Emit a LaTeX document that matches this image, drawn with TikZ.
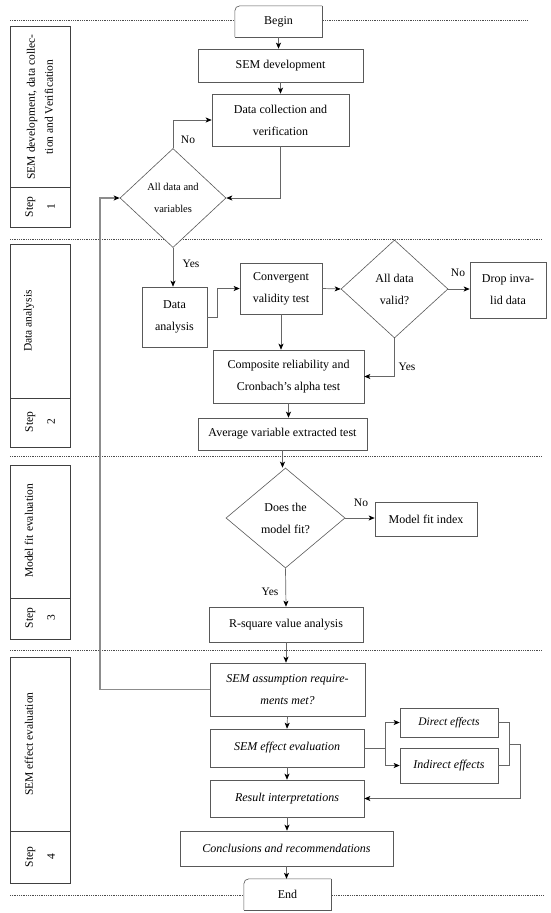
\documentclass[tikz,border=0pt]{standalone}
\usepackage{fontspec}
\setmainfont{Liberation Serif}
\usetikzlibrary{arrows.meta,shapes.geometric}

\begin{document}
\begin{tikzpicture}[x=1pt, y=-1pt,
    >={Stealth[length=6pt,width=5pt,inset=1.5pt,color=black]},
    box/.style={draw=black!65, line width=0.6pt, fill=white, inner sep=0pt, align=center, font=\fontsize{12}{22}\selectfont},
    decision/.style={diamond, draw=black!65, line width=0.6pt, fill=white, inner sep=0pt, align=center, font=\fontsize{12}{22}\selectfont},
    terminal/.style={fill=white, minimum width=87pt, minimum height=31pt, inner sep=0pt, font=\fontsize{12}{14}\selectfont},
    outline/.style={draw=black!65, line width=0.6pt},
    flow/.style={->, draw=black!60, line width=0.7pt},
    lane/.style={draw=black!75, line width=0.7pt},
    lanetext/.style={rotate=90, align=center, font=\fontsize{11.5}{18}\selectfont},
    steptext/.style={rotate=90, align=center, font=\fontsize{11.5}{22}\selectfont},
    separator/.style={line width=0.9pt, dash pattern=on 0.9pt off 0.9pt, black!70},
    answer/.style={font=\fontsize{11.5}{14}\selectfont}]
				\useasboundingbox (0,0) rectangle (550,913);
				
				% Dotted separators between the steps
				\draw[separator] (10,20) -- (527,20);
				\draw[separator] (10,239) -- (542,239);
				\draw[separator] (10,456) -- (542,456);
				\draw[separator] (10,650) -- (542,650);
				\draw[separator] (10,895) -- (543,895);
				
				% Step lanes on the left
				\draw[lane] (10,26) rectangle (70,227);
				\draw[lane] (10,187) -- (70,187);
				\node[lanetext] (lane1) at (40,107) {SEM development, data collec-\\tion and Verification};
				\node[steptext] (step1) at (40,207) {Step\\1};
				
				\draw[lane] (10,244) rectangle (70,447);
				\draw[lane] (10,398) -- (70,398);
				\node[lanetext] (lane2) at (29,321) {Data analysis};
				\node[steptext] (step2) at (40,422) {Step\\2};
				
				\draw[lane] (10,465) rectangle (70,639);
				\draw[lane] (10,598) -- (70,598);
				\node[lanetext] (lane3) at (29,531) {Model fit evaluation};
				\node[steptext] (step3) at (40,618) {Step\\3};
				
				\draw[lane] (10,657) rectangle (70,883);
				\draw[lane] (10,831) -- (70,831);
				\node[lanetext] (lane4) at (29,744) {SEM effect evaluation};
				\node[steptext] (step4) at (40,857) {Step\\4};
				
				% Step 1
				\node[terminal] (begin) at (278.5,21.5) {Begin};
				\draw[outline, rounded corners=5pt] (begin.south west) -- (begin.north west) -- (begin.north east);
				\draw[outline] (begin.north east) -- (begin.south east) -- (begin.south west);
				\node[box, minimum width=165pt, minimum height=33pt] (semdev) at (280.5,65.5) {SEM development};
				\node[box, minimum width=137pt, minimum height=52pt] (dcoll) at (280.5,120) {Data collection and\\verification};
				\node[decision, minimum width=106pt, minimum height=99pt, font=\fontsize{10.5}{22}\selectfont] (dia1) at (173,198) {All data and\\variables};
				
				% Step 2
				\node[box, minimum width=65pt, minimum height=60pt] (da) at (174.5,317) {Data\\analysis};
				\node[box, minimum width=82pt, minimum height=51pt] (conv) at (281,288.5) {Convergent\\validity test};
				\node[decision, minimum width=107pt, minimum height=98pt] (dia2) at (394.5,289) {All data\\valid?};
				\node[box, minimum width=76pt, minimum height=56pt] (drop) at (508,290) {Drop inva-\\lid data};
				\node[box, minimum width=151pt, minimum height=53pt] (comp) at (288.5,376.5) {Composite reliability and\\Cronbach’s alpha test};
				\node[box, minimum width=169pt, minimum height=32pt] (avg) at (282.5,434) {Average variable extracted test};
				
				% Step 3
				\node[decision, minimum width=119pt, minimum height=100pt] (dia3) at (285.5,518) {Does the\\model fit?};
				\node[box, minimum width=102pt, minimum height=34pt] (mfi) at (426,519) {Model fit index};
				\node[box, minimum width=154pt, minimum height=35pt] (rsq) at (286,624.5) {R-square value analysis};
				
				% Step 4
				\node[box, minimum width=155pt, minimum height=53pt, font=\itshape\fontsize{12}{22}\selectfont] (assm) at (287.5,689.5) {SEM assumption require-\\ments met?};
				\node[box, minimum width=154pt, minimum height=38pt, font=\itshape\fontsize{12}{22}\selectfont] (eff) at (287,748) {SEM effect evaluation};
				\node[box, minimum width=98pt, minimum height=29pt, font=\itshape\fontsize{11.5}{22}\selectfont] (direct) at (449,722.5) {Direct effects};
				\node[box, minimum width=98pt, minimum height=35pt, font=\itshape\fontsize{12}{22}\selectfont] (indirect) at (449,765.5) {Indirect effects};
				\node[box, minimum width=154pt, minimum height=37pt, font=\itshape\fontsize{12}{22}\selectfont] (res) at (287,798.5) {Result interpretations};
				\node[box, minimum width=213pt, minimum height=35pt, font=\itshape\fontsize{12}{22}\selectfont] (concl) at (286.5,848.5) {Conclusions and recommendations};
				\node[terminal] (end) at (287.5,894.5) {End};
				\draw[outline, rounded corners=5pt] (end.south west) -- (end.north west) -- (end.north east);
				\draw[outline] (end.north east) -- (end.south east) -- (end.south west);
				
				% Answers
				\node[answer] (no1) at (188,140) {No};
				\node[answer] (yes1) at (191,264) {Yes};
				\node[answer] (no2) at (458,273) {No};
				\node[answer] (yes2) at (407,367) {Yes};
				\node[answer] (no3) at (361,503) {No};
				\node[answer] (yes3) at (270,592) {Yes};
				
				% Connectors
				\draw[flow] (begin.south) -- (begin.south |- semdev.north);
				\draw[flow] (semdev.south) -- (dcoll.north);
				\draw[flow] (dia1.north) |- (dcoll.west);
				\draw[flow] (dcoll.south) |- (dia1.east);
				\draw[flow] (dia1.south) -- (dia1.south |- da.north);
				\draw[flow] (da.east) -- ++(10,0) |- (conv.west);
				\draw[flow] (conv.east) -- (dia2.west);
				\draw[flow] (dia2.east) -- (dia2.east -| drop.west);
				\draw[flow] (conv.south) -- (conv.south |- comp.north);
				\draw[flow] (dia2.south) |- (comp.east);
				\draw[flow] (comp.south) -- (comp.south |- avg.north);
				\draw[flow] (avg.south) -- (avg.south |- dia3.north);
				\draw[flow] (dia3.east) -- (dia3.east -| mfi.west);
				\draw[flow] (dia3.south) -- (rsq.north);
				\draw[flow] (rsq.south) -- (rsq.south |- assm.north);
				\draw[flow] (assm.south) -- (eff.north);
				\draw[flow] (eff.south) -- (res.north);
				\draw[flow] (res.south) -- (res.south |- concl.north);
				\draw[flow] (concl.south) -- (concl.south |- end.north);
				
				% Feedback to the first decision
				\coordinate (fb) at (100,0);
				\draw[flow, draw=black!45, line width=1.1pt] (assm.west) -- (assm.west -| fb) |- (dia1.west);
				
				% Direct and indirect effects
				\coordinate (branch) at (385,748);
				\draw[flow, -] (eff.east) -- (branch);
				\draw[flow] (branch) |- (direct.west);
				\draw[flow] (branch) |- (indirect.west);
				\draw[flow, -] (direct.east) -- ++(11,0) |- (indirect.east);
				\coordinate (merge) at (509,744);
				\draw[flow] (merge) -- ++(11,0) |- (res.east);
			\end{tikzpicture}
\end{document}
